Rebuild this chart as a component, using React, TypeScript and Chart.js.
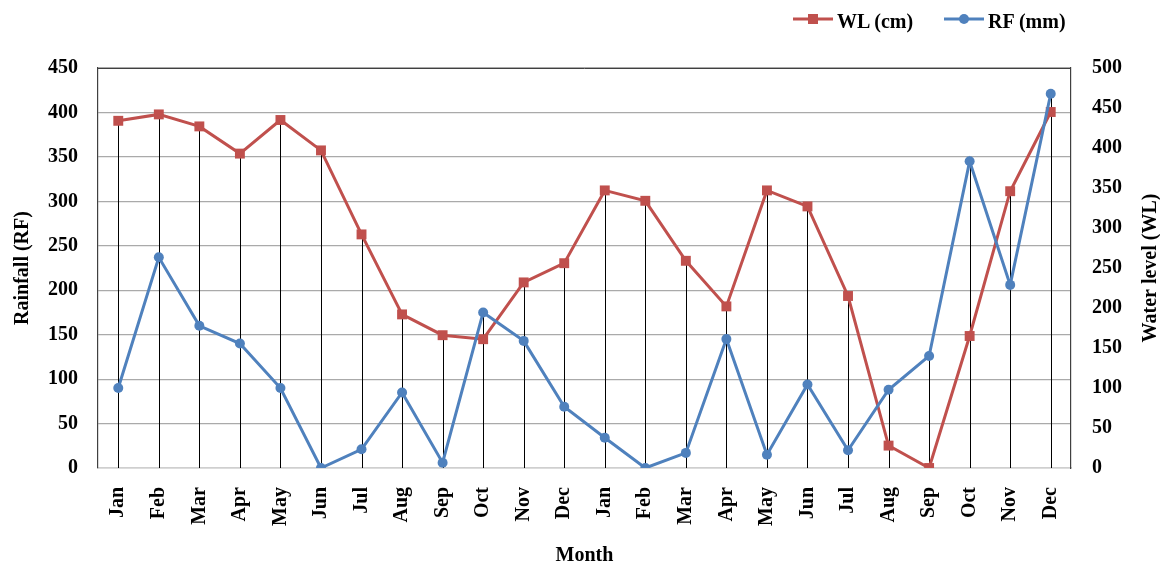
import React, { useEffect, useRef } from "react";
import { Chart, registerables } from "chart.js";

Chart.register(...registerables);

const months = ["Jan", "Feb", "Mar", "Apr", "May", "Jun", "Jul", "Aug", "Sep", "Oct", "Nov", "Dec"];
const categories = [...months, ...months];
const wlValues = [434, 442, 427, 393, 435, 397, 292, 192, 166, 161, 232, 256, 347, 334, 259, 202, 347, 327, 215, 28, 0, 165, 346, 445];
const rfValues = [90, 237, 160, 140, 90, 0, 21, 85, 6, 175, 143, 69, 34, 0, 17, 145, 15, 94, 20, 88, 126, 345, 206, 421];
const rfTicks = [0, 450, 50];
const wlTicks = [0, 500, 50];

const RED = "#C0504D";
const BLUE = "#4F81BD";
const FONT = "'Liberation Serif', 'Times New Roman', serif";

const dropLines = {
  id: "dropLines",
  beforeDatasetsDraw(chart: any) {
    const { ctx, chartArea } = chart;
    const metas = chart.data.datasets.map((_: any, i: number) => chart.getDatasetMeta(i));
    ctx.save();
    ctx.strokeStyle = "#000";
    ctx.lineWidth = 1;
    const n = chart.data.labels.length;
    for (let i = 0; i < n; i++) {
      let top = chartArea.bottom;
      let x = 0;
      metas.forEach((m: any) => {
        const el = m.data[i];
        if (el) {
          top = Math.min(top, el.y);
          x = el.x;
        }
      });
      ctx.beginPath();
      ctx.moveTo(Math.round(x) + 0.5, chartArea.bottom);
      ctx.lineTo(Math.round(x) + 0.5, top);
      ctx.stroke();
    }
    ctx.strokeStyle = "#404040";
    ctx.beginPath();
    ctx.moveTo(chartArea.left, chartArea.top + 0.5);
    ctx.lineTo(chartArea.right, chartArea.top + 0.5);
    ctx.stroke();
    ctx.restore();
  },
};

const axisTitles = {
  id: "axisTitles",
  afterDraw(chart: any) {
    const { ctx, chartArea } = chart;
    const cy = (chartArea.top + chartArea.bottom) / 2;
    ctx.save();
    ctx.fillStyle = "#000";
    ctx.font = `bold 20px ${FONT}`;
    ctx.textAlign = "center";
    ctx.textBaseline = "middle";
    ctx.save();
    ctx.translate(23, cy);
    ctx.rotate(-Math.PI / 2);
    ctx.fillText("Rainfall (RF)", 0, 0);
    ctx.restore();
    ctx.save();
    ctx.translate(1151, cy);
    ctx.rotate(-Math.PI / 2);
    ctx.fillText("Water level (WL)", 0, 0);
    ctx.restore();
    ctx.fillText("Month", (chartArea.left + chartArea.right) / 2, 556);
    ctx.restore();
  },
};

export default function App() {
  const ref = useRef<HTMLCanvasElement | null>(null);

  useEffect(() => {
    if (!ref.current) return;
    const tickFont = { family: FONT, size: 20, weight: "bold" as const };
    const chart = new Chart(ref.current, {
      type: "line",
      data: {
        labels: categories,
        datasets: [
          {
            label: "WL (cm)",
            data: wlValues,
            yAxisID: "y1",
            borderColor: RED,
            backgroundColor: RED,
            borderWidth: 3,
            pointStyle: "rect",
            pointRadius: 7,
            pointBorderWidth: 0,
            order: 2,
          },
          {
            label: "RF (mm)",
            data: rfValues,
            yAxisID: "y",
            borderColor: BLUE,
            backgroundColor: BLUE,
            borderWidth: 3,
            pointStyle: "circle",
            pointRadius: 5,
            pointBorderWidth: 0,
            order: 1,
          },
        ],
      },
      options: {
        animation: false,
        responsive: true,
        maintainAspectRatio: false,
        layout: { padding: { top: 68, left: 0, right: 0, bottom: 0 } },
        plugins: { legend: { display: false }, tooltip: { enabled: false } },
        scales: {
          x: {
            type: "category",
            offset: true,
            grid: { display: false, drawTicks: false, offset: true },
            border: { display: true, color: "#cfcfcf", width: 1.5 },
            ticks: {
              autoSkip: false,
              minRotation: 90,
              maxRotation: 90,
              padding: 19,
              color: "#000",
              font: tickFont,
            },
            afterFit(scale: any) {
              scale.height = 97;
            },
          },
          y: {
            position: "left",
            min: rfTicks[0],
            max: rfTicks[1],
            grid: { color: "#aaaaaa", lineWidth: 1.2, drawTicks: false },
            border: { display: true, color: "#404040", width: 1.2 },
            ticks: { stepSize: rfTicks[2], padding: 20, color: "#000", font: tickFont },
            afterFit(scale: any) {
              scale.width = 98;
            },
          },
          y1: {
            position: "right",
            min: wlTicks[0],
            max: wlTicks[1],
            grid: { display: false, drawTicks: false },
            border: { display: true, color: "#404040", width: 1.2 },
            ticks: { stepSize: wlTicks[2], padding: 21, color: "#000", font: tickFont },
            afterFit(scale: any) {
              scale.width = 89;
            },
          },
        },
      },
      plugins: [dropLines, axisTitles],
    });
    return () => chart.destroy();
  }, []);

  const legendText: React.CSSProperties = {
    position: "absolute",
    top: 9,
    height: 24,
    lineHeight: "24px",
    fontFamily: FONT,
    fontWeight: "bold",
    fontSize: 20,
    color: "#000",
    whiteSpace: "nowrap",
  };

  return (
    <div style={{ position: "fixed", left: 0, top: 0, width: 1160, height: 565, background: "#fff" }}>
      <canvas ref={ref} style={{ width: "100%", height: "100%" }} />
      <svg style={{ position: "absolute", left: 793, top: 12 }} width={40} height={14}>
        <line x1={0} y1={7} x2={40} y2={7} stroke={RED} strokeWidth={3} />
        <rect x={15} y={2} width={10} height={10} fill={RED} />
      </svg>
      <div style={{ ...legendText, left: 837 }}>WL (cm)</div>
      <svg style={{ position: "absolute", left: 944, top: 12 }} width={40} height={14}>
        <line x1={0} y1={7} x2={40} y2={7} stroke={BLUE} strokeWidth={3} />
        <circle cx={20} cy={7} r={5} fill={BLUE} />
      </svg>
      <div style={{ ...legendText, left: 988 }}>RF (mm)</div>
    </div>
  );
}
